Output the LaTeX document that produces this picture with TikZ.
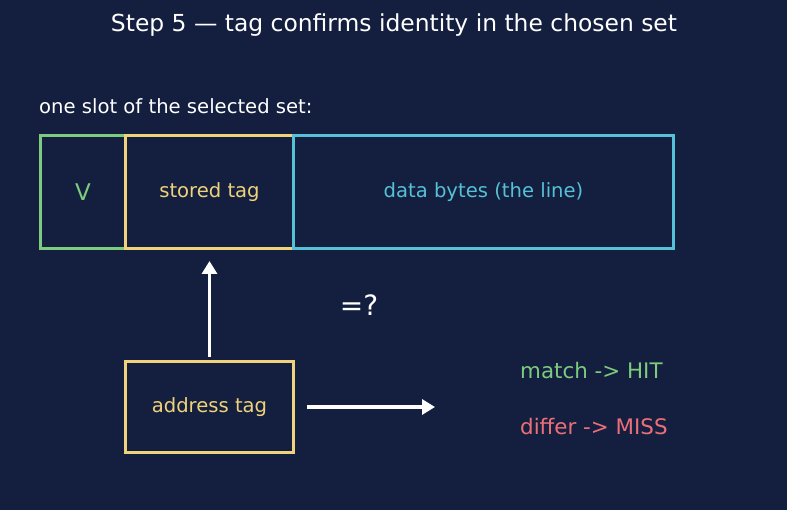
\documentclass[tikz,border=0pt]{standalone}
\usepackage{fontspec}
\setmainfont{DejaVu Sans}
\usetikzlibrary{arrows.meta,positioning}
\definecolor{bgnavy}{HTML}{141F3F}
\definecolor{linegreen}{HTML}{7CCB7E}
\definecolor{lineyellow}{HTML}{F0D27A}
\definecolor{linecyan}{HTML}{55C0D6}
\definecolor{textred}{HTML}{EC6F78}

\begin{document}
\begin{tikzpicture}[x=1pt, y=-1pt, font=\fontsize{19.6}{23}\selectfont,
  cell/.style={draw, line width=3pt, inner sep=0pt, anchor=north west},
  a/.style={-{Triangle[length=13pt, width=15pt]}, line width=3.2pt, color=white},
  lab/.style={anchor=west, inner sep=0pt, font=\fontsize{21.4}{25}\selectfont}]

\fill[bgnavy] (0,0) rectangle (787,510);

% ---------------- title and caption
\node[text=white, font=\fontsize{23.4}{27}\selectfont] (title) at (394,25) {Step 5 — tag confirms identity in the chosen set};
\node[text=white, anchor=west, inner sep=0pt] (caption) at (39,106) {one slot of the selected set:};

% ---------------- the slot: valid bit, stored tag, data
\node[cell, draw=linegreen, text=linegreen, minimum width=85pt, minimum height=113pt, font=\fontsize{23}{27}\selectfont] (valid) at (39,134) {V};
\node[cell, draw=lineyellow, text=lineyellow, minimum width=168pt, minimum height=113pt] (stag) at (124,134) {stored tag};
\node[cell, draw=linecyan, text=linecyan, minimum width=380pt, minimum height=113pt] (data) at (292,134) {data bytes (the line)};

% ---------------- address tag and comparison
\node[cell, draw=lineyellow, text=lineyellow, minimum width=168pt, minimum height=91pt] (atag) at (124,360) {address tag};
\node[text=white, font=\fontsize{28}{31}\selectfont] (cmpq) at (359,305) {=?};
\coordinate (res) at ([xshift=140pt]atag.east);
\draw[a] ([yshift=3pt]atag.north) -- ([yshift=-11pt]stag.south);
\draw[a] ([xshift=12pt]atag.east) -- (res);

% ---------------- outcomes
\node[lab, text=linegreen] (hit) at (520,371) {match -> HIT};
\node[lab, text=textred] (miss) at (520,427) {differ -> MISS};
\end{tikzpicture}
\end{document}
